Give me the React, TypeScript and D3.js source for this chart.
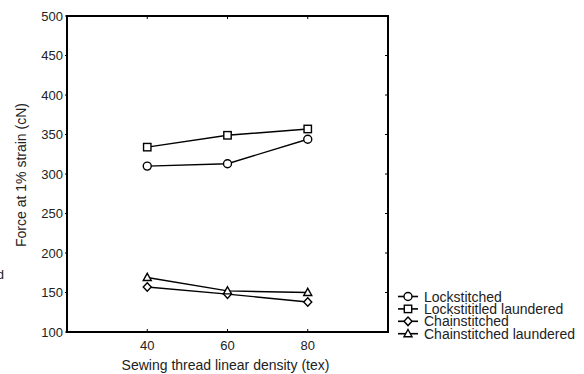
import React from "react";
import * as d3 from "d3";

const xValues = [40, 60, 80];
const lockstitched = [310, 313, 344];
const lockstitchedLaundered = [334, 349, 357];
const chainstitched = [157, 148, 138];
const chainstitchedLaundered = [169, 152, 150];
const yTicks = [100, 150, 200, 250, 300, 350, 400, 450, 500];
const xTicks = [40, 60, 80];
const seriesNames = ["Lockstitched", "Lockstititled laundered", "Chainstitched", "Chainstitched laundered"];
const seriesSymbols = ["circle", "square", "diamond", "triangle"];

const W = 584, H = 374;
const L = 67, R = 388, T = 16, B = 332;
const FONT = "Liberation Sans, Arial, sans-serif";

function Marker({ type, x, y }: { type: string; x: number; y: number }) {
  const sw = 1.4;
  if (type === "circle") return <circle cx={x} cy={y} r={4} fill="white" stroke="black" strokeWidth={sw} />;
  if (type === "square") return <rect x={x - 3.7} y={y - 3.7} width={7.4} height={7.4} fill="white" stroke="black" strokeWidth={sw} />;
  if (type === "diamond") return <path d={`M${x},${y - 4.3}L${x + 4},${y}L${x},${y + 4.3}L${x - 4},${y}Z`} fill="white" stroke="black" strokeWidth={sw} />;
  return <path d={`M${x},${y - 4.2}L${x + 4},${y + 3}L${x - 4},${y + 3}Z`} fill="white" stroke="black" strokeWidth={sw} />;
}

export default function App() {
  const x = d3.scaleLinear().domain([20, 100]).range([L, R]);
  const y = d3.scaleLinear().domain([100, 500]).range([B, T]);
  const series = [lockstitched, lockstitchedLaundered, chainstitched, chainstitchedLaundered];
  const line = d3.line<number>().x((_, i) => x(xValues[i])).y((d) => y(d));
  const legendY0 = 296.5, legendDy = 12.4, legendX = 398;
  return (
    <svg width={W} height={H} style={{ position: "absolute", left: 0, top: 0, background: "white" }} fontFamily={FONT}>
      <rect x={0} y={0} width={W} height={H} fill="white" />
      {series.map((s, i) => (
        <g key={i}>
          <path d={line(s) || ""} fill="none" stroke="black" strokeWidth={1.4} />
          {s.map((v, j) => <Marker key={j} type={seriesSymbols[i]} x={x(xValues[j])} y={y(v)} />)}
        </g>
      ))}
      <rect x={L} y={T} width={R - L} height={B - T} fill="none" stroke="black" strokeWidth={2} />
      {yTicks.map((t) => (
        <g key={t}>
          <line x1={L - 2} x2={L} y1={y(t)} y2={y(t)} stroke="black" />
          <line x1={R} x2={R - 3} y1={y(t)} y2={y(t)} stroke="black" />
          <text x={L - 4} y={y(t)} dy="0.36em" textAnchor="end" fontSize={13} fill="#222">{t}</text>
        </g>
      ))}
      {xTicks.map((t) => (
        <g key={t}>
          <line x1={x(t)} x2={x(t)} y1={B} y2={B - 3} stroke="black" />
          <line x1={x(t)} x2={x(t)} y1={T} y2={T + 3} stroke="black" />
          <text x={x(t)} y={350} textAnchor="middle" fontSize={13} fill="#222">{t}</text>
        </g>
      ))}
      <text x={(L + R) / 2 - 2} y={370} textAnchor="middle" fontSize={14} fill="#222">Sewing thread linear density (tex)</text>
      <text transform={`translate(26,${(T + B) / 2 + 1}) rotate(-90)`} textAnchor="middle" fontSize={14} fill="#222">Force at 1% strain (cN)</text>
      <text x={4} y={279} textAnchor="end" fontSize={13} fill="#222">d</text>
      {seriesNames.map((n, i) => {
        const yy = legendY0 + i * legendDy;
        return (
          <g key={n}>
            <line x1={legendX} x2={legendX + 20} y1={yy} y2={yy} stroke="black" strokeWidth={1.6} />
            <Marker type={seriesSymbols[i]} x={legendX + 10} y={yy} />
            <text x={legendX + 26} y={yy} dy="0.36em" fontSize={14} fill="#222">{n}</text>
          </g>
        );
      })}
    </svg>
  );
}
